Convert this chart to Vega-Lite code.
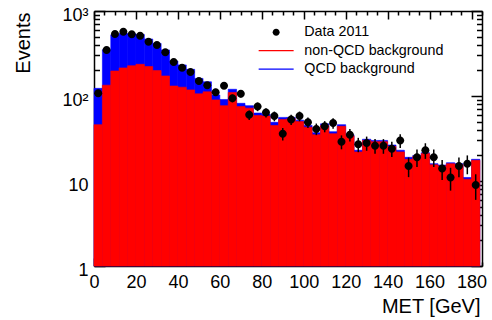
{
  "$schema": "https://vega.github.io/schema/vega-lite/v6.json",
  "width": 388,
  "height": 255,
  "autosize": "none",
  "padding": {"left": 94, "top": 11, "right": 10, "bottom": 54},
  "background": "white",
  "config": {
    "view": {"stroke": null},
    "font": "Liberation Sans",
    "axis": {"grid": false, "domainColor": "black", "tickColor": "black", "labelColor": "black", "titleColor": "black", "labelFont": "Liberation Sans", "titleFont": "Liberation Sans", "titleFontWeight": "normal", "labelFlush": false, "labelOverlap": false, "labelBound": false}
  },
  "data": {"values": [
    {"lo":0,"hi":4,"mid":2,"total":123,"nonqcd":46,"data":108,"elo":97.6,"ehi":118.4},
    {"lo":4,"hi":8,"mid":6,"total":350,"nonqcd":134,"data":348,"elo":329.3,"ehi":366.7},
    {"lo":8,"hi":12,"mid":10,"total":525,"nonqcd":197,"data":536,"elo":512.8,"ehi":559.2},
    {"lo":12,"hi":16,"mid":14,"total":545,"nonqcd":214,"data":571,"elo":547.1,"ehi":594.9},
    {"lo":16,"hi":20,"mid":18,"total":540,"nonqcd":227,"data":532,"elo":508.9,"ehi":555.1},
    {"lo":20,"hi":24,"mid":22,"total":530,"nonqcd":236,"data":512,"elo":489.4,"ehi":534.6},
    {"lo":24,"hi":28,"mid":26,"total":468,"nonqcd":222,"data":435,"elo":414.1,"ehi":455.9},
    {"lo":28,"hi":32,"mid":30,"total":416,"nonqcd":199,"data":398,"elo":378.0,"ehi":418.0},
    {"lo":32,"hi":36,"mid":34,"total":348,"nonqcd":172,"data":327,"elo":308.9,"ehi":345.1},
    {"lo":36,"hi":40,"mid":38,"total":258,"nonqcd":131,"data":251,"elo":235.2,"ehi":266.8},
    {"lo":40,"hi":44,"mid":42,"total":232,"nonqcd":127,"data":215,"elo":200.3,"ehi":229.7},
    {"lo":44,"hi":48,"mid":46,"total":206,"nonqcd":118,"data":192,"elo":178.1,"ehi":205.9},
    {"lo":48,"hi":52,"mid":50,"total":161,"nonqcd":106,"data":150,"elo":137.8,"ehi":162.2},
    {"lo":52,"hi":56,"mid":54,"total":147,"nonqcd":112,"data":134,"elo":122.4,"ehi":145.6},
    {"lo":56,"hi":60,"mid":58,"total":103,"nonqcd":90,"data":111,"elo":100.5,"ehi":121.5},
    {"lo":60,"hi":64,"mid":62,"total":91,"nonqcd":77,"data":132,"elo":120.5,"ehi":143.5},
    {"lo":64,"hi":68,"mid":66,"total":120,"nonqcd":110,"data":94,"elo":84.3,"ehi":103.7},
    {"lo":68,"hi":72,"mid":70,"total":82,"nonqcd":75,"data":106,"elo":95.7,"ehi":116.3},
    {"lo":72,"hi":76,"mid":74,"total":77,"nonqcd":72,"data":60,"elo":52.3,"ehi":67.7},
    {"lo":76,"hi":80,"mid":78,"total":63,"nonqcd":59,"data":75,"elo":66.3,"ehi":83.7},
    {"lo":80,"hi":84,"mid":82,"total":61,"nonqcd":58,"data":64,"elo":56,"ehi":72},
    {"lo":84,"hi":88,"mid":86,"total":49,"nonqcd":45,"data":58,"elo":50.4,"ehi":65.6},
    {"lo":88,"hi":92,"mid":90,"total":56,"nonqcd":53,"data":36,"elo":30,"ehi":42},
    {"lo":92,"hi":96,"mid":94,"total":56,"nonqcd":54,"data":53,"elo":45.7,"ehi":60.3},
    {"lo":96,"hi":100,"mid":98,"total":52,"nonqcd":50,"data":58,"elo":50.4,"ehi":65.6},
    {"lo":100,"hi":104,"mid":102,"total":45,"nonqcd":43,"data":49,"elo":42,"ehi":56},
    {"lo":104,"hi":108,"mid":106,"total":37,"nonqcd":35,"data":41,"elo":34.6,"ehi":47.4},
    {"lo":108,"hi":112,"mid":110,"total":47,"nonqcd":45,"data":44,"elo":37.4,"ehi":50.6},
    {"lo":112,"hi":116,"mid":114,"total":38,"nonqcd":36,"data":48,"elo":41.1,"ehi":54.9},
    {"lo":116,"hi":120,"mid":118,"total":46,"nonqcd":44,"data":29,"elo":23.6,"ehi":34.4},
    {"lo":120,"hi":124,"mid":122,"total":35,"nonqcd":34,"data":35,"elo":29.1,"ehi":40.9},
    {"lo":124,"hi":128,"mid":126,"total":23,"nonqcd":22,"data":27,"elo":21.8,"ehi":32.2},
    {"lo":128,"hi":132,"mid":130,"total":31,"nonqcd":30,"data":28,"elo":22.7,"ehi":33.3},
    {"lo":132,"hi":136,"mid":134,"total":30,"nonqcd":29,"data":26,"elo":20.9,"ehi":31.1},
    {"lo":136,"hi":140,"mid":138,"total":30,"nonqcd":29,"data":26,"elo":20.9,"ehi":31.1},
    {"lo":140,"hi":144,"mid":142,"total":26.5,"nonqcd":25.5,"data":24,"elo":19.1,"ehi":28.9},
    {"lo":144,"hi":148,"mid":146,"total":23,"nonqcd":22,"data":30,"elo":24.5,"ehi":35.5},
    {"lo":148,"hi":152,"mid":150,"total":19,"nonqcd":18,"data":15,"elo":11.1,"ehi":18.9},
    {"lo":152,"hi":156,"mid":154,"total":20,"nonqcd":19.5,"data":19,"elo":14.6,"ehi":23.4},
    {"lo":156,"hi":160,"mid":158,"total":21.5,"nonqcd":21,"data":23,"elo":18.2,"ehi":27.8},
    {"lo":160,"hi":164,"mid":162,"total":16,"nonqcd":15.5,"data":19,"elo":14.6,"ehi":23.4},
    {"lo":164,"hi":168,"mid":166,"total":15.4,"nonqcd":15,"data":14,"elo":10.3,"ehi":17.7},
    {"lo":168,"hi":172,"mid":170,"total":16.4,"nonqcd":16,"data":11,"elo":7.7,"ehi":14.3},
    {"lo":172,"hi":176,"mid":174,"total":16,"nonqcd":15.5,"data":15,"elo":11.1,"ehi":18.9},
    {"lo":176,"hi":180,"mid":178,"total":11,"nonqcd":10.5,"data":16,"elo":12,"ehi":20},
    {"lo":180,"hi":184,"mid":182,"total":18,"nonqcd":17.5,"data":9,"elo":6,"ehi":12}
  ]},
  "resolve": {"axis": {"x": "independent", "y": "independent"}},
  "layer": [
    {
      "mark": {"type": "rect", "color": "#0000ff", "stroke": "#0000ff", "strokeWidth": 0.6},
      "encoding": {
        "x": {"field": "lo", "type": "quantitative", "scale": {"domain": [0, 185], "nice": false, "zero": false},
              "axis": {"orient": "bottom", "values": [0,20,40,60,80,100,120,140,160,180], "tickSize": -8, "tickWidth": 1.5, "domainWidth": 1.5,
                       "labelFontSize": 18, "labelPadding": 15, "title": "MET [GeV]", "titleFontSize": 20, "titleAnchor": null, "titleX": 386, "titleY": 46, "titleAlign": "right", "titleBaseline": "alphabetic"}},
        "x2": {"field": "hi"},
        "y": {"field": "total", "type": "quantitative", "scale": {"type": "log", "domain": [1, 1000], "nice": false},
              "axis": {"orient": "left", "values": [1, 10, 100, 1000], "tickSize": -11, "tickWidth": 1.5, "domainWidth": 1.5,
                       "labelFontSize": 18, "labelPadding": 17, "labelOffset": 4,
                       "labelExpr": "datum.value == 1000 ? '10³' : datum.value == 100 ? '10²' : datum.label",
                       "title": "Events", "titleFontSize": 20, "titleAnchor": null, "titleX": -65, "titleY": 1, "titleAlign": "right", "titleAngle": -90, "titleBaseline": "alphabetic"}},
        "y2": {"datum": 1}
      }
    },
    {
      "mark": {"type": "rect", "color": "#ff0000", "stroke": "#ff0000", "strokeWidth": 0.6},
      "encoding": {
        "x": {"field": "lo", "type": "quantitative", "scale": {"domain": [0, 185], "nice": false, "zero": false},
              "axis": {"orient": "top", "values": [0,20,40,60,80,100,120,140,160,180], "tickSize": -8, "tickWidth": 1.5, "domainWidth": 1.5, "labels": false, "title": null}},
        "x2": {"field": "hi"},
        "y": {"field": "nonqcd", "type": "quantitative", "scale": {"type": "log", "domain": [1, 1000], "nice": false},
              "axis": {"orient": "right", "values": [1, 10, 100, 1000], "tickSize": -11, "tickWidth": 1.5, "domainWidth": 1.5, "labels": false, "title": null}},
        "y2": {"datum": 1}
      }
    },
    {
      "mark": {"type": "rule", "color": "black", "strokeWidth": 1.5},
      "encoding": {
        "x": {"field": "mid", "type": "quantitative", "scale": {"domain": [0, 185], "nice": false, "zero": false},
              "axis": {"orient": "bottom", "values": [5,10,15,25,30,35,45,50,55,65,70,75,85,90,95,105,110,115,125,130,135,145,150,155,165,170,175,185], "tickSize": -4, "tickWidth": 1.5, "domain": false, "labels": false, "title": null}},
        "y": {"field": "elo", "type": "quantitative", "scale": {"type": "log", "domain": [1, 1000], "nice": false},
              "axis": {"orient": "left", "values": [2,3,4,5,6,7,8,9,20,30,40,50,60,70,80,90,200,300,400,500,600,700,800,900], "tickSize": -5.5, "tickWidth": 1.5, "domain": false, "labels": false, "title": null}},
        "y2": {"field": "ehi"}
      }
    },
    {
      "mark": {"type": "point", "filled": true, "size": 178, "opacity": 1},
      "encoding": {
        "x": {"field": "mid", "type": "quantitative", "scale": {"domain": [0, 185], "nice": false, "zero": false},
              "axis": {"orient": "top", "values": [5,10,15,25,30,35,45,50,55,65,70,75,85,90,95,105,110,115,125,130,135,145,150,155,165,170,175,185], "tickSize": -4, "tickWidth": 1.5, "domain": false, "labels": false, "title": null}},
        "y": {"field": "data", "type": "quantitative", "scale": {"type": "log", "domain": [1, 1000], "nice": false},
              "axis": {"orient": "right", "values": [2,3,4,5,6,7,8,9,20,30,40,50,60,70,80,90,200,300,400,500,600,700,800,900], "tickSize": -5.5, "tickWidth": 1.5, "domain": false, "labels": false, "title": null}},
        "color": {"datum": "Data 2011", "scale": {"domain": ["Data 2011", "non-QCD background", "QCD background"], "range": ["black", "#ff0000", "#0000ff"]},
                  "legend": {"title": null, "orient": "none", "legendX": 175, "legendY": 14, "padding": 0, "labelFontSize": 14.3, "labelFont": "Liberation Sans", "labelColor": "black", "labelOffset": 21, "symbolSize": 136, "symbolStrokeWidth": 0, "symbolOpacity": 1, "rowPadding": 3.5}},
        "shape": {"datum": "Data 2011", "scale": {"domain": ["Data 2011", "non-QCD background", "QCD background"], "range": ["M-0.6,0A0.6,0.6,0,1,1,0.6,0A0.6,0.6,0,1,1,-0.6,0Z", "M-3,-0.1H3V0.1H-3Z", "M-3,-0.1H3V0.1H-3Z"]},
                  "legend": {"title": null, "orient": "none", "legendX": 175, "legendY": 14, "padding": 0, "labelFontSize": 14.3, "labelFont": "Liberation Sans", "labelColor": "black", "labelOffset": 21, "symbolSize": 136, "symbolStrokeWidth": 0, "symbolOpacity": 1, "rowPadding": 3.5}}
      }
    }
  ]
}
